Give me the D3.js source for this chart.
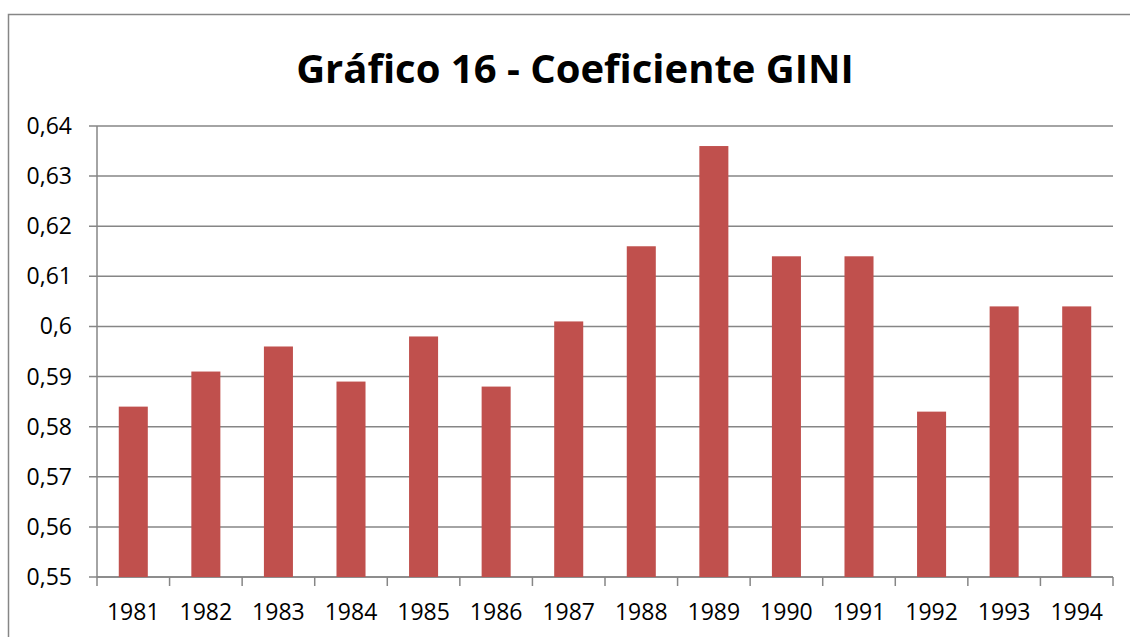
<!DOCTYPE html>
<html>
    <head>
        <meta charset="utf-8" />
        <script src="https://d3js.org/d3.v7.min.js"></script>
        <style>
            body {
                margin: 0;
                background: #fff;
            }
            text {
                font-family: "Open Sans", "Liberation Sans", sans-serif;
                fill: #000;
            }
            .grid line {
                stroke: #868686;
                stroke-width: 1.5px;
            }
        </style>
    </head>
    <body>
        <svg id="chart" width="1130" height="637"></svg>
        <script>
            var years = ["1981", "1982", "1983", "1984", "1985", "1986", "1987",
                         "1988", "1989", "1990", "1991", "1992", "1993", "1994"];
            var gini = [0.584, 0.591, 0.596, 0.589, 0.598, 0.588, 0.601,
                        0.616, 0.636, 0.614, 0.614, 0.583, 0.604, 0.604];
            var yTicks = [0.55, 0.56, 0.57, 0.58, 0.59, 0.60, 0.61, 0.62, 0.63, 0.64];
            var tickLabels = ["0,55", "0,56", "0,57", "0,58", "0,59", "0,6", "0,61", "0,62", "0,63", "0,64"];

            var svg = d3.select("#chart");

            // outer frame of the chart area (runs off the right and bottom edges)
            svg.append("rect")
                .attr("x", 8.5)
                .attr("y", 14.5)
                .attr("width", 1140)
                .attr("height", 640)
                .attr("fill", "none")
                .attr("stroke", "#868686")
                .attr("stroke-width", 1.5);

            svg.append("text")
                .attr("x", 575)
                .attr("y", 83)
                .attr("text-anchor", "middle")
                .attr("font-size", 40)
                .attr("font-weight", "bold")
                .text("Gráfico 16 - Coeficiente GINI");

            var plotLeft = 97, plotRight = 1113, plotTop = 126, plotBottom = 577;

            var x = d3.scaleBand()
                .domain(years)
                .range([plotLeft, plotRight])
                .paddingInner(0.6)
                .paddingOuter(0.3);

            var y = d3.scaleLinear()
                .domain([0.55, 0.64])
                .range([plotBottom, plotTop]);

            // horizontal gridlines + left tick marks
            var grid = svg.append("g").attr("class", "grid");
            grid.selectAll(".gl")
                .data(yTicks)
                .enter().append("line")
                .attr("x1", plotLeft - 8)
                .attr("x2", plotRight)
                .attr("y1", function(d) { return y(d); })
                .attr("y2", function(d) { return y(d); });

            svg.selectAll(".ylabel")
                .data(yTicks)
                .enter().append("text")
                .attr("class", "ylabel")
                .attr("x", 72)
                .attr("y", function(d) { return y(d); })
                .attr("dy", "0.35em")
                .attr("text-anchor", "end")
                .attr("font-size", 23)
                .text(function(d, i) { return tickLabels[i]; });

            svg.selectAll(".bar")
                .data(gini)
                .enter().append("rect")
                .attr("class", "bar")
                .attr("x", function(d, i) { return x(years[i]); })
                .attr("width", x.bandwidth())
                .attr("y", function(d) { return y(d); })
                .attr("height", function(d) { return plotBottom - y(d); })
                .attr("fill", "#C0504D");

            // axes lines
            grid.append("line")
                .attr("x1", plotLeft).attr("x2", plotLeft)
                .attr("y1", plotTop).attr("y2", plotBottom);
            grid.append("line")
                .attr("x1", plotLeft).attr("x2", plotRight)
                .attr("y1", plotBottom).attr("y2", plotBottom);

            // x tick marks between categories
            var xTickPos = d3.range(years.length + 1).map(function(i) {
                return plotLeft + (plotRight - plotLeft) * i / years.length;
            });
            grid.selectAll(".xt")
                .data(xTickPos)
                .enter().append("line")
                .attr("x1", function(d) { return d; })
                .attr("x2", function(d) { return d; })
                .attr("y1", plotBottom)
                .attr("y2", plotBottom + 9);

            svg.selectAll(".xlabel")
                .data(years)
                .enter().append("text")
                .attr("class", "xlabel")
                .attr("x", function(d) { return x(d) + x.bandwidth() / 2; })
                .attr("y", 620)
                .attr("text-anchor", "middle")
                .attr("font-size", 23)
                .text(function(d) { return d; });
        </script>
    </body>
</html>
